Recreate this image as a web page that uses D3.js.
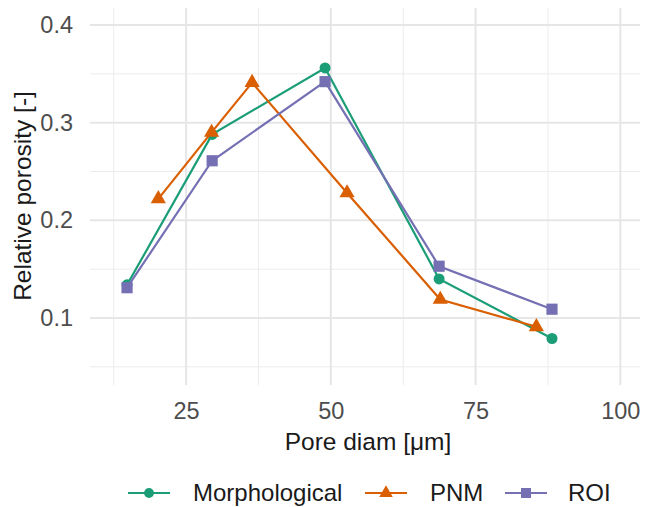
<!DOCTYPE html>
<html>
<head>
<meta charset="utf-8">
<script src="https://cdn.jsdelivr.net/npm/d3@7"></script>
<style>
  body { margin: 0; background: #fff; }
  svg { font-family: "Liberation Sans", Arial, sans-serif; }
</style>
</head>
<body>
<div id="chart"></div>
<script>
// series
var seriesNames = ["Morphological", "PNM", "ROI"];
var morphX = [14.8, 29.5, 49.0, 68.7, 88.2];
var morphY = [0.134, 0.288, 0.356, 0.140, 0.079];
var pnmX = [20.2, 29.4, 36.4, 52.8, 68.9, 85.5];
var pnmY = [0.222, 0.290, 0.341, 0.228, 0.119, 0.091];
var roiX = [14.8, 29.5, 49.0, 68.7, 88.2];
var roiY = [0.131, 0.261, 0.342, 0.153, 0.109];
var xTicks = [25, 50, 75, 100];
var yTicks = [0.1, 0.2, 0.3, 0.4];
var xMinor = [12.5, 37.5, 62.5, 87.5];
var yMinor = [0.05, 0.15, 0.25, 0.35];

var colors = ["#1b9e77", "#d95f02", "#7570b3"];
var shapes = [d3.symbolCircle, d3.symbolTriangle, d3.symbolSquare];
var sizes = [95, 100, 125];

var width = 645, height = 507;
var panel = {left: 90, right: 640, top: 8, bottom: 385};

var series = [
	{name: seriesNames[0], x: morphX, y: morphY},
	{name: seriesNames[1], x: pnmX, y: pnmY},
	{name: seriesNames[2], x: roiX, y: roiY}
];

var x = d3.scaleLinear().domain([8.4, 103.4]).range([panel.left, panel.right]);
var y = d3.scaleLinear().domain([0.0314, 0.4174]).range([panel.bottom, panel.top]);

var svg = d3.select("#chart").append("svg")
	.attr("width", width)
	.attr("height", height);

function vLines(vals, w, col) {
	svg.append("g").selectAll("line").data(vals).enter().append("line")
		.attr("x1", function(d) { return x(d) }).attr("x2", function(d) { return x(d) })
		.attr("y1", panel.top).attr("y2", panel.bottom)
		.attr("stroke", col).attr("stroke-width", w);
}
function hLines(vals, w, col) {
	svg.append("g").selectAll("line").data(vals).enter().append("line")
		.attr("y1", function(d) { return y(d) }).attr("y2", function(d) { return y(d) })
		.attr("x1", panel.left).attr("x2", panel.right)
		.attr("stroke", col).attr("stroke-width", w);
}

// grid
vLines(xMinor, 1, "#ececec");
hLines(yMinor, 1, "#ececec");
vLines(xTicks, 2, "#e6e6e6");
hLines(yTicks, 2, "#e6e6e6");

// axes (labels only)
var xAxis = svg.append("g")
	.attr("transform", "translate(0," + (panel.bottom + 10) + ")")
	.call(d3.axisBottom(x).tickValues(xTicks).tickSize(0).tickPadding(7).tickFormat(d3.format("d")));
var yAxis = svg.append("g")
	.attr("transform", "translate(" + (panel.left - 11) + ",0)")
	.call(d3.axisLeft(y).tickValues(yTicks).tickSize(0).tickPadding(6).tickFormat(d3.format(".1f")));
[xAxis, yAxis].forEach(function(a) {
	a.select(".domain").remove();
	a.selectAll("text")
		.attr("fill", "#4d4d4d")
		.style("font-size", "23.5px")
		.style("font-family", "'Liberation Sans', Arial, sans-serif");
});

// axis titles
svg.append("text")
	.attr("x", 368).attr("y", 450)
	.attr("text-anchor", "middle")
	.style("font-size", "24.5px")
	.attr("fill", "#1a1a1a")
	.text("Pore diam [\u03bcm]");
svg.append("text")
	.attr("transform", "translate(31,196) rotate(-90)")
	.attr("text-anchor", "middle")
	.style("font-size", "24.5px")
	.attr("fill", "#1a1a1a")
	.text("Relative porosity [-]");

// lines and points
var line = d3.line()
	.x(function(d) { return x(d[0]) })
	.y(function(d) { return y(d[1]) });

series.forEach(function(s, i) {
	var pts = s.x.map(function(v, j) { return [v, s.y[j]] });
	svg.append("path")
		.datum(pts)
		.attr("d", line)
		.attr("fill", "none")
		.attr("stroke", colors[i])
		.attr("stroke-width", 2.2);
	svg.append("g").selectAll("path").data(pts).enter().append("path")
		.attr("transform", function(d) {
			return "translate(" + x(d[0]) + "," + y(d[1]) + ")";
		})
		.attr("d", d3.symbol().type(shapes[i]).size(sizes[i]))
		.attr("fill", colors[i]);
});

// legend
var legendX = [128, 365, 505];
var legendText = [193, 430, 568];
var legend = svg.append("g").attr("transform", "translate(0,493)");
series.forEach(function(s, i) {
	legend.append("line")
		.attr("x1", legendX[i]).attr("x2", legendX[i] + 42)
		.attr("stroke", colors[i]).attr("stroke-width", 2.2);
	legend.append("path")
		.attr("transform", "translate(" + (legendX[i] + 21) + ",0)")
		.attr("d", d3.symbol().type(shapes[i]).size(sizes[i] * 0.8))
		.attr("fill", colors[i]);
	legend.append("text")
		.attr("x", legendText[i]).attr("y", 0).attr("dy", "0.35em")
		.style("font-size", "24px")
		.attr("fill", "#1a1a1a")
		.text(s.name);
});
</script>
</body>
</html>
